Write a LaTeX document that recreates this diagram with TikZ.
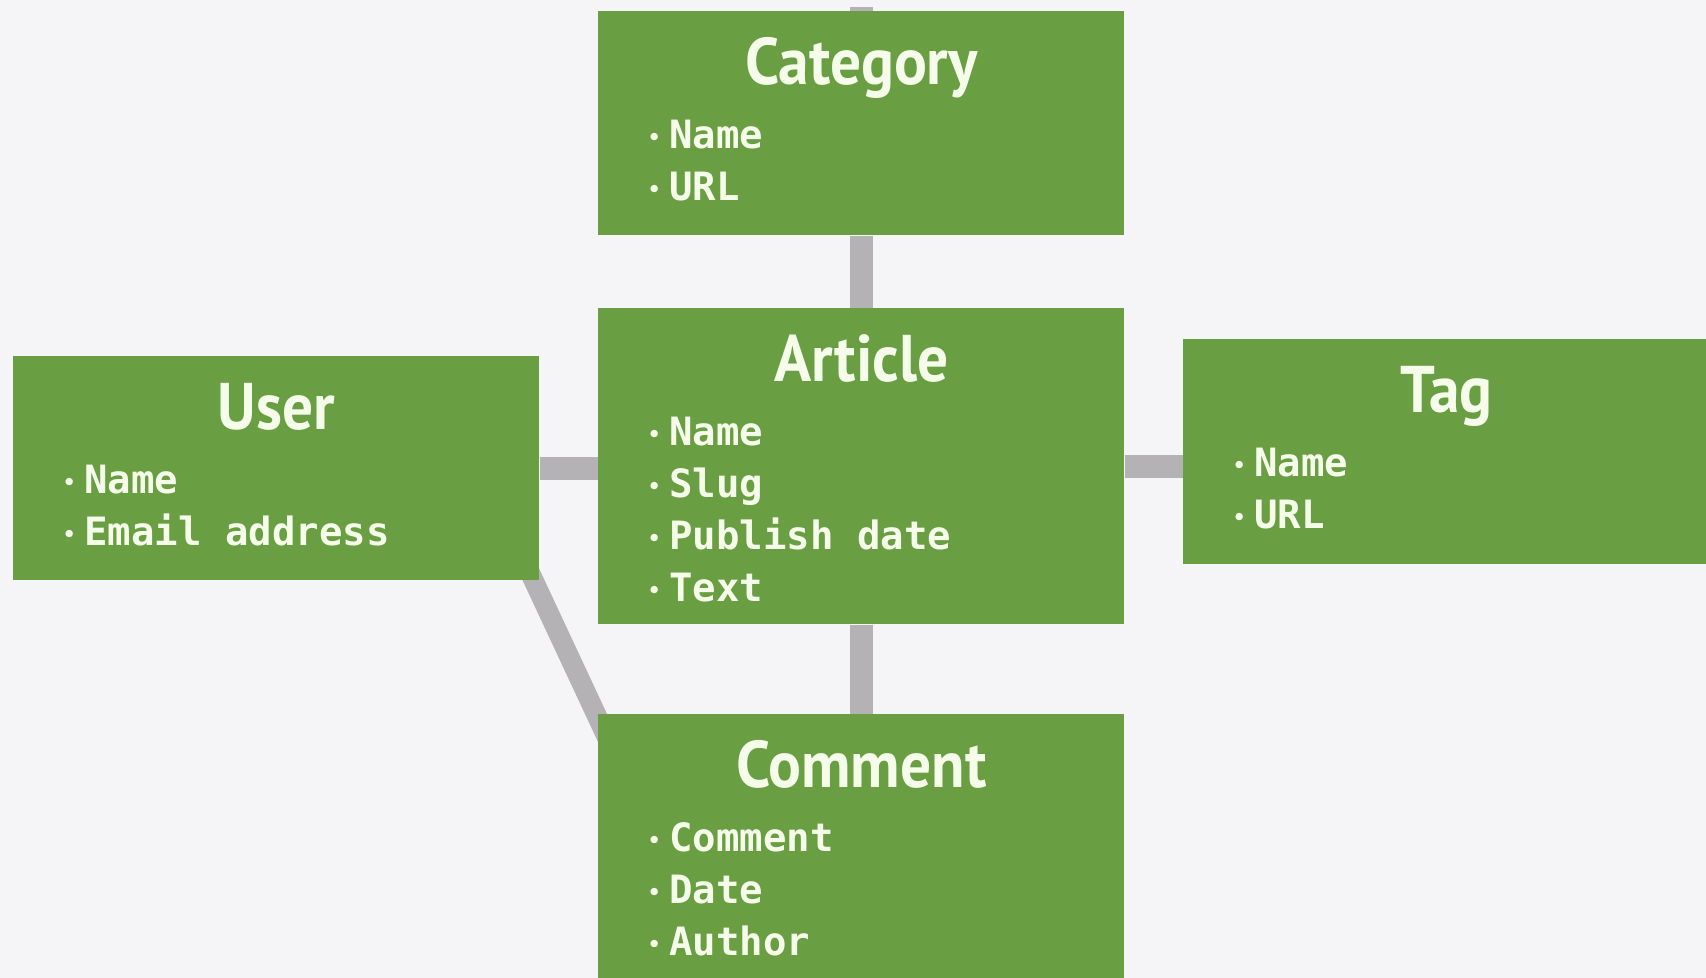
\documentclass[tikz,border=0pt]{standalone}
\usepackage{fontspec}
\setmainfont{PT Sans}
\newfontfamily\headfont[FakeStretch=0.93]{PT Sans}
\newfontfamily\fieldfont{DejaVu Sans Mono}
\usetikzlibrary{calc}

\definecolor{boxgreen}{RGB}{105,158,67}
\definecolor{boxtext}{RGB}{246,252,234}
\definecolor{linkgray}{RGB}{180,178,181}
\definecolor{paper}{RGB}{245,244,247}

\pgfdeclarelayer{paper}
\pgfdeclarelayer{background}
\pgfsetlayers{paper,background,main}

% small round bullet hanging in front of every field
\newcommand{\bul}{\llap{\makebox[15pt]{\fontspec{PT Sans}\fontsize{12pt}{12pt}\selectfont\raisebox{2.4pt}{•}}}}

\tikzset{
  entity/.style={fill=boxgreen, minimum width=263pt, anchor=north west, inner sep=0pt},
  head/.style={text=boxtext, anchor=base, inner sep=0pt,
    font={\headfont\bfseries\fontsize{33pt}{36pt}\selectfont}},
  field/.style={text=boxtext, anchor=base west, inner sep=0pt,
    font={\fieldfont\bfseries\fontsize{19.5pt}{22pt}\selectfont}},
  link/.style={draw=linkgray, line width=11.5pt}
}

\begin{document}
\begin{tikzpicture}
\useasboundingbox (0,0) rectangle (853pt,489pt);
\begin{pgfonlayer}{paper}
\fill[paper] (0,0) rectangle (853pt,489pt);
\end{pgfonlayer}

% boxes
\node[entity, minimum height=112pt] (category) at (299pt,483.5pt) {};
\node[entity, minimum height=158pt] (article) at (299pt,335pt) {};
\node[entity, minimum height=112pt] (user) at (6.5pt,311pt) {};
\node[entity, minimum height=112.5pt] (tag) at (591.5pt,319.5pt) {};
\node[entity, minimum height=160pt] (comment) at (299pt,132pt) {};

% titles
\node[head] (category-head) at ([yshift=-37pt]category.north) {Category};
\node[head] (article-head) at ([yshift=-37pt]article.north) {Article};
\node[head] (user-head) at ([yshift=-37pt]user.north) {User};
\node[head] (tag-head) at ([yshift=-37pt]tag.north) {Tag};
\node[head] (comment-head) at ([yshift=-37pt]comment.north) {Comment};

% fields
\foreach \f [count=\i] in {Name,URL}
  \node[field] (category-\i) at ([xshift=35.5pt,yshift={-69pt-26pt*(\i-1)}]category.north west) {\bul\f};
\foreach \f [count=\i] in {Name,Slug,Publish date,Text}
  \node[field] (article-\i) at ([xshift=35.5pt,yshift={-69pt-26pt*(\i-1)}]article.north west) {\bul\f};
\foreach \f [count=\i] in {Name,Email address}
  \node[field] (user-\i) at ([xshift=35.5pt,yshift={-69pt-26pt*(\i-1)}]user.north west) {\bul\f};
\foreach \f [count=\i] in {Name,URL}
  \node[field] (tag-\i) at ([xshift=35.5pt,yshift={-69pt-26pt*(\i-1)}]tag.north west) {\bul\f};
\foreach \f [count=\i] in {Comment,Date,Author}
  \node[field] (comment-\i) at ([xshift=35.5pt,yshift={-69pt-26pt*(\i-1)}]comment.north west) {\bul\f};

% relations, behind the boxes
\begin{pgfonlayer}{background}
\coordinate (up) at ([yshift=2pt]category.north);
\draw[link] (category.north) -- (up);
\draw[link] (category.south) -- (article.north);
\draw[link] (user.east) -- (user.east -| article.west);
\draw[link] (article.east) -- (article.east -| tag.west);
\draw[link] (article.south) -- (comment.north);
\draw[link, line width=10pt, shorten <=-15pt, shorten >=-15pt]
  ([xshift=-3pt]user.south east) -- ([xshift=-1pt]comment.north west);
\end{pgfonlayer}
\end{tikzpicture}
\end{document}
